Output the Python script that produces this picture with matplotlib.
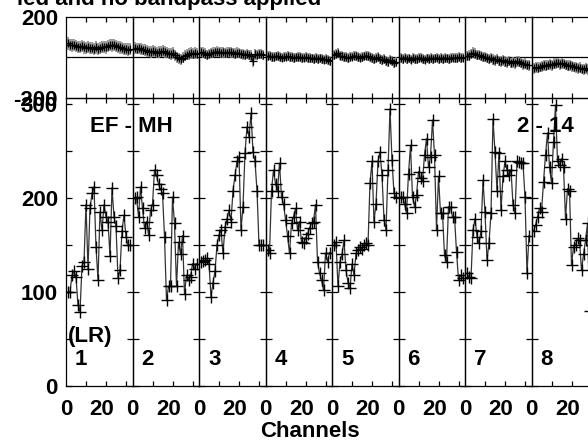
import matplotlib
matplotlib.use("Agg")
import matplotlib.pyplot as plt
from matplotlib.ticker import FixedLocator

plt.rcParams['font.family'] = ['Liberation Sans', 'DejaVu Sans']
plt.rcParams['font.weight'] = 'bold'

# ---------------- data ----------------
channels = list(range(1, 33))
panel_names = ['1', '2', '3', '4', '5', '6', '7', '8']

amp_if1 = [100, 100, 118, 122, 116, 86, 79, 128, 132, 193, 125, 189, 205, 212, 148, 113,
           185, 166, 193, 180, 175, 138, 211, 180, 170, 115, 123, 165, 182, 159, 150, 150]
amp_if2 = [200, 201, 180, 212, 189, 168, 175, 161, 187, 193, 230, 224, 215, 210, 205, 159,
           91, 106, 106, 201, 173, 106, 153, 140, 160, 98, 118, 113, 116, 130, 125, 130]
amp_if3 = [132, 133, 134, 136, 130, 95, 110, 122, 150, 161, 166, 141, 169, 178, 187, 175,
           208, 224, 239, 244, 166, 191, 248, 276, 265, 290, 249, 239, 208, 150, 150, 150]
amp_if4 = [145, 141, 208, 230, 215, 208, 237, 201, 194, 177, 160, 141, 173, 180, 189, 166,
           175, 153, 152, 157, 162, 168, 173, 175, 193, 132, 120, 113, 102, 141, 132, 142]
amp_if5 = [150, 153, 106, 132, 140, 155, 123, 110, 104, 130, 118, 141, 145, 148, 146, 150,
           152, 150, 216, 239, 175, 194, 239, 249, 224, 177, 166, 230, 295, 240, 205, 201]
amp_if6 = [201, 201, 194, 184, 226, 256, 201, 191, 203, 228, 221, 218, 246, 263, 233, 244,
           283, 246, 166, 223, 184, 184, 139, 132, 191, 190, 180, 180, 143, 113, 118, 115]
amp_if7 = [120, 116, 115, 166, 178, 159, 152, 165, 219, 185, 134, 152, 184, 284, 249, 208,
           248, 187, 223, 239, 230, 224, 230, 193, 184, 239, 238, 237, 237, 201, 120, 160]
amp_if8 = [165, 171, 180, 189, 185, 217, 246, 269, 233, 216, 260, 299, 239, 235, 242, 233,
           178, 210, 208, 129, 148, 150, 157, 155, 123, 140, 155, 173, 80, 150, 160, 150]

ph_if1 = [68, 62, 58, 60, 55, 52, 50, 55, 48, 46, 50, 44, 45, 42, 48, 40,
          45, 50, 52, 48, 55, 60, 58, 62, 55, 50, 48, 45, 42, 40, 38, 40]
ph_if2 = [45, 42, 44, 40, 38, 35, 30, 28, 25, 30, 28, 22, 25, 28, 30, 26,
          22, 18, 15, 20, 10, 0, -5, -10, -2, 8, 12, 15, 20, 18, 20, 18]
ph_if3 = [25, 22, 18, 12, 15, 20, 22, 25, 28, 26, 22, 24, 20, 22, 25, 24,
          20, 18, 22, 20, 16, 14, 12, 15, 10, 8, -20, 14, 10, 15, 16, 12]
ph_if4 = [5, 8, 2, 0, 4, 6, 2, -2, 0, 3, 5, 2, 0, -3, -1, 2,
          0, -4, -2, 0, -5, -3, -6, -8, -4, -10, -6, -8, -12, -10, -15, -20]
ph_if5 = [10, 15, 20, 8, 5, 0, 2, -5, 0, 3, 8, 5, 2, -2, 0, 4,
          8, 5, 0, -5, -8, -3, 0, -10, -15, -8, -20, -25, -12, -18, -30, -22]
ph_if6 = [-5, -8, -2, -10, -6, -12, -4, -8, -10, -5, -2, -8, -12, -6, -10, -4,
          -8, -6, -2, -10, -5, -8, -3, -6, -10, -4, -2, -5, -3, 0, -4, -2]
ph_if7 = [5, 8, 15, 22, 18, 10, 12, 5, 0, 2, -5, -8, -3, -12, -15, -10,
          -18, -20, -15, -22, -25, -18, -28, -25, -30, -20, -22, -28, -35, -32, -38, -40]
ph_if8 = [-55, -50, -52, -48, -45, -40, -42, -38, -35, -40, -32, -30, -28, -35, -30, -33,
          -38, -42, -40, -45, -48, -50, -55, -52, -58, -60, -55, -62, -65, -60, -62, -65]

phase_err = [30, 28, 26, 24, 24, 24, 26, 26]

amps = [amp_if1, amp_if2, amp_if3, amp_if4, amp_if5, amp_if6, amp_if7, amp_if8]
phases = [ph_if1, ph_if2, ph_if3, ph_if4, ph_if5, ph_if6, ph_if7, ph_if8]

amp_ticks = [0, 50, 100, 150, 200, 250, 300]
amp_ticklabels = ['0', '', '100', '', '200', '', '300']
phase_ticks = [-200, 200]
phase_ticklabels = ['-200', '200']
chan_minor = [10, 20, 30]
chan_major = [0, 17.85]
chan_labels = ['0', '20']

# ---------------- layout ----------------
W, H = 588, 440
fig = plt.figure(figsize=(W / 100, H / 100), dpi=100)
fig.patch.set_facecolor('white')

left0, pw = 66.0, 66.5
ph_top, ph_bot = 16.7, 97.7
am_top, am_bot = 97.5, 386.0
FS = 16


def fx(x):
    return x / W


def fy(y):
    return 1 - y / H


for i in range(8):
    x0 = left0 + pw * i
    axp = fig.add_axes([fx(x0), fy(ph_bot), pw / W, (ph_bot - ph_top) / H])
    axa = fig.add_axes([fx(x0), fy(am_bot), pw / W, (am_bot - am_top) / H])

    # phase panel
    axp.set_xlim(0, 33.25)
    axp.set_ylim(-200, 200)
    axp.axhline(0, color='black', lw=0.9)
    axp.errorbar(channels, phases[i], yerr=phase_err[i], fmt='none',
                 ecolor='#8a8a8a', elinewidth=1.2, capsize=0)
    axp.plot(channels, phases[i], color='black', lw=0.6, marker='+',
             ms=6, mew=0.9)
    axp.xaxis.set_major_locator(FixedLocator(chan_minor))
    axp.tick_params(axis='x', which='both', direction='in', top=True,
                    bottom=True, length=3.6, width=0.9, labelbottom=False)
    axp.set_yticks(phase_ticks)
    axp.tick_params(axis='y', length=0, pad=5.8, labelsize=FS,
                    labelleft=(i == 0))
    if i == 0:
        axp.set_yticklabels(phase_ticklabels, fontweight='bold')

    # amplitude panel
    axa.set_xlim(0, 33.25)
    axa.set_ylim(0, 307)
    axa.plot(channels, amps[i], color='#333333', lw=0.9, marker='+',
             ms=8.5, mew=1.0, mec='black')
    axa.set_yticks(amp_ticks)
    axa.tick_params(axis='y', direction='in', left=True, right=True,
                    length=4.3, width=0.9, pad=5.8, labelsize=FS,
                    labelleft=(i == 0))
    if i == 0:
        axa.set_yticklabels(amp_ticklabels, fontweight='bold')
    axa.set_xticks(chan_major)
    axa.set_xticklabels(chan_labels, fontweight='bold')
    axa.set_xticks(chan_minor, minor=True)
    axa.tick_params(axis='x', which='major', length=0, pad=9, labelsize=FS)
    axa.tick_params(axis='x', which='minor', direction='in', top=True,
                    bottom=True, length=3.6, width=0.9)

    for ax in (axp, axa):
        for s in ax.spines.values():
            s.set_linewidth(0.9)
            s.set_color('black')
        ax.patch.set_alpha(0)

    fig.text(fx(x0 + 9), fy(365), panel_names[i], fontsize=FS,
             fontweight='bold', ha='left', va='baseline')

fig.text(fx(68), fy(341.7), '(LR)', fontsize=FS, fontweight='bold',
         ha='left', va='baseline')
fig.text(fx(90), fy(131.7), 'EF - MH', fontsize=FS, fontweight='bold',
         ha='left', va='baseline')
fig.text(fx(516.7), fy(131.7), '2 - 14', fontsize=FS, fontweight='bold',
         ha='left', va='baseline')
fig.text(fx(310), fy(436.5), 'Channels', fontsize=FS, fontweight='bold',
         ha='center', va='baseline')
fig.text(fx(321.7), fy(5), 'ied and no bandpass applied', fontsize=FS,
         fontweight='bold', ha='right', va='baseline')

fig.savefig('out.png', dpi=100)
